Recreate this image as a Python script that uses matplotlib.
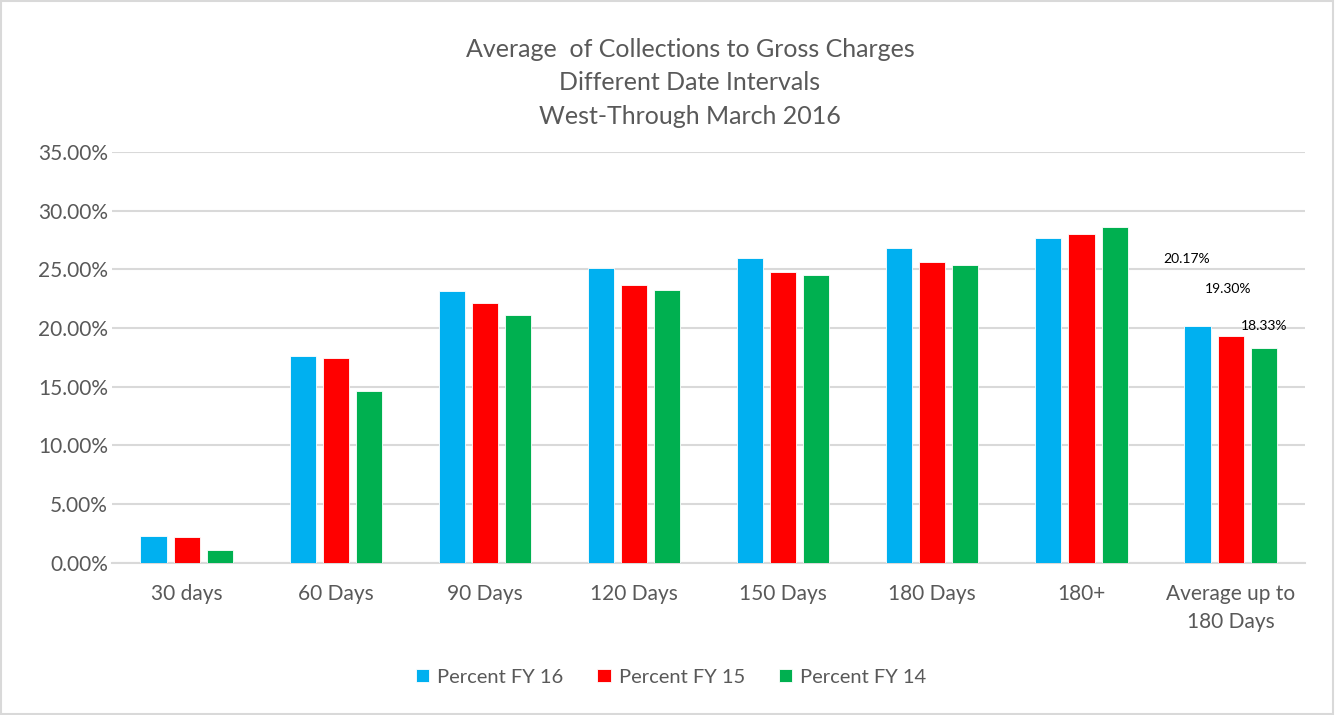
import matplotlib.pyplot as plt
import numpy as np
from matplotlib.ticker import PercentFormatter
from matplotlib.patches import Rectangle

plt.rcParams['font.family'] = ['Lato', 'DejaVu Sans']

# data
categories = ["30 days", "60 Days", "90 Days", "120 Days", "150 Days",
              "180 Days", "180+", "Average up to\n180 Days"]
fy16 = [2.28, 17.65, 23.17, 25.15, 25.95, 26.85, 27.68, 20.17]
fy15 = [2.16, 17.45, 22.11, 23.65, 24.76, 25.64, 28.02, 19.30]
fy14 = [1.06, 14.64, 21.12, 23.22, 24.53, 25.38, 28.59, 18.33]
series = ["Percent FY 16", "Percent FY 15", "Percent FY 14"]
colors = ["#00b0f0", "#ff0000", "#00b050"]

grey = "#595959"

fig = plt.figure(figsize=(13.37, 7.15), dpi=100)
ax = fig.add_axes([0.0838, 0.213, 0.8924, 0.5745])

x = np.arange(len(categories))
step = 0.222
width = 0.175
for i, (vals, name, c) in enumerate(zip([fy16, fy15, fy14], series, colors)):
    bars = ax.bar(x + (i - 1) * step, vals, width, color=c, label=name,
                  edgecolor="white", linewidth=0.6, zorder=3)
    # labels only on the last group, placed like the original
    last = bars[-1]
    offs = [(-8, 44), (-2, 30), (0, 11)][i]
    ax.annotate(f"{vals[-1]:.2f}%", (last.get_x() + last.get_width() / 2, vals[-1]),
                xytext=offs, textcoords="offset points", ha="center",
                va="bottom", fontsize=10, color="black")

ax.set_xlim(-0.5, len(categories) - 0.5)
ax.set_ylim(0, 35)
ax.set_yticks(np.arange(0, 36, 5))
ax.yaxis.set_major_formatter(PercentFormatter(decimals=2))
ax.set_xticks(x)
ax.set_xticklabels(categories, fontsize=15, color=grey, linespacing=1.5)
ax.tick_params(axis="y", labelsize=15, labelcolor=grey, length=0, pad=3)
ax.tick_params(axis="x", length=0, pad=15)
ax.grid(axis="y", color="#d9d9d9", linewidth=1.5, zorder=0)
for s in ["top", "right", "left"]:
    ax.spines[s].set_visible(False)
ax.spines["bottom"].set_color("#d9d9d9")
ax.spines["bottom"].set_linewidth(1.5)

fig.text(0.516, 0.947, "Average  of Collections to Gross Charges\nDifferent Date Intervals\nWest-Through March 2016",
         ha="center", va="top", fontsize=18, color=grey, linespacing=1.55)

fig.legend(loc="center", bbox_to_anchor=(0.502, 0.053), ncol=3, frameon=False,
           fontsize=14.5, labelcolor=grey, handlelength=0.65, handleheight=0.65,
           handletextpad=0.4, columnspacing=1.7)

fig.patches.append(Rectangle((0.001, 0.002), 0.996, 0.996, transform=fig.transFigure,
                             fill=False, edgecolor="#d9d9d9", linewidth=1.5))

plt.savefig("out.png", dpi=100)
